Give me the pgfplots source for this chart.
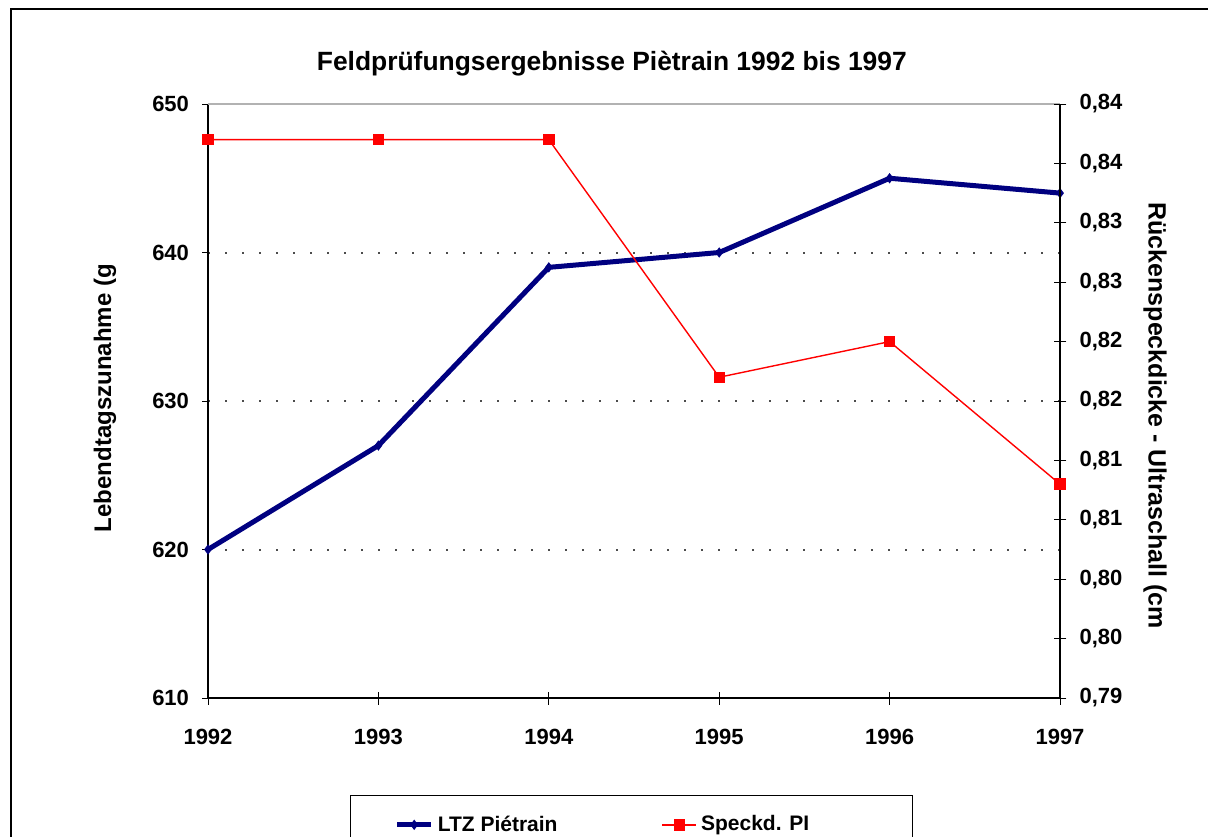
\documentclass[border=0pt]{standalone}
\usepackage{fontspec}
\setmainfont{Liberation Sans}
\usepackage{pgfplots}
\pgfplotsset{compat=1.18}
\definecolor{navy}{RGB}{0,0,128}
\definecolor{xred}{RGB}{255,0,0}
\begin{document}
\begin{tikzpicture}
\path[use as bounding box, clip] (0,0) rectangle (604pt,418pt);
\draw[line width=1pt] (5.5pt,-20pt) rectangle (640pt,413.5pt);
\begin{axis}[
  at={(104pt,69pt)}, anchor=south west,
  scale only axis, width=426pt, height=297pt,
  xmin=1992, xmax=1997, ymin=610, ymax=650,
  axis y line*=left, axis x line=none,
  ytick={610,620,630,640,650},
  tick align=outside, major tick length=3pt,
  tick style={black, line width=0.5pt},
  axis line style={black, line width=0.6pt},
  ymajorgrids,
  major grid style={gray!60!black, line width=1pt, dash pattern=on 1pt off 7.5pt},
  /pgf/number format/assume math mode=true,
  ticklabel style={font=\bfseries\fontsize{11}{13}\selectfont},
  yticklabel style={xshift=-3pt},
  ylabel={Lebendtagszunahme (g},
  ylabel style={at={(axis description cs:-0.121,0.505)}, anchor=center, font=\bfseries\fontsize{12}{14}\selectfont},
  title={Feldprüfungsergebnisse Piètrain 1992 bis 1997},
  title style={at={(axis description cs:0.474,1.068)}, anchor=center, yshift=-6pt, font=\bfseries\fontsize{13.2}{15}\selectfont},
  clip=false,
]
\draw[gray!60, line width=0.6pt] (rel axis cs:0,1) -- (rel axis cs:1,1);
\addplot[navy, line width=2.5pt, mark=diamond*, mark size=2.2pt, mark options={line width=0.5pt}]
  coordinates {(1992,620) (1993,627) (1994,639) (1995,640) (1996,645) (1997,644)};
\end{axis}
\begin{axis}[
  at={(104pt,69pt)}, anchor=south west,
  scale only axis, width=426pt, height=297pt,
  xmin=1992, xmax=1997, ymin=0.79, ymax=0.84,
  axis y line*=right, axis x line*=bottom,
  xtick={1992,1993,1994,1995,1996,1997},
  xticklabels={1992,1993,1994,1995,1996,1997},
  ytick={0.79,0.795,0.8,0.805,0.81,0.815,0.82,0.825,0.83,0.835,0.84},
  yticklabels={{0,79},{0,80},{0,80},{0,81},{0,81},{0,82},{0,82},{0,83},{0,83},{0,84},{0,84}},
  tick align=center, major tick length=6.5pt,
  tick style={black, line width=0.5pt},
  axis line style={black, line width=0.6pt},
  /pgf/number format/assume math mode=true,
  ticklabel style={font=\bfseries\fontsize{11}{13}\selectfont},
  xticklabel style={yshift=-9pt},
  yticklabel style={xshift=3pt},
  ylabel={Rückenspeckdicke - Ultraschall (cm},
  ylabel style={at={(axis description cs:1.1115,0.475)}, anchor=center, rotate=180, font=\bfseries\fontsize{12.5}{14}\selectfont},
  clip=false,
  legend columns=2,
  legend style={at={(axis description cs:0.1667,-0.1633)}, anchor=north west,
    draw=black, line width=0.6pt, inner xsep=22pt, inner ysep=8pt,
    font=\bfseries\fontsize{10.5}{12}\selectfont,
    /tikz/every even column/.append style={column sep=50pt}},
]
\addlegendimage{navy, line width=2.5pt, mark=diamond*, mark size=2.2pt, mark options={line width=0.5pt}}
\addlegendentry{LTZ Piétrain}
\addplot[xred, line width=0.7pt, mark=square*, mark size=2.5pt]
  coordinates {(1992,0.837) (1993,0.837) (1994,0.837) (1995,0.817) (1996,0.820) (1997,0.808)};
\addlegendentry{Speckd. PI\hspace*{27.5pt}}
\end{axis}
\end{tikzpicture}
\end{document}
